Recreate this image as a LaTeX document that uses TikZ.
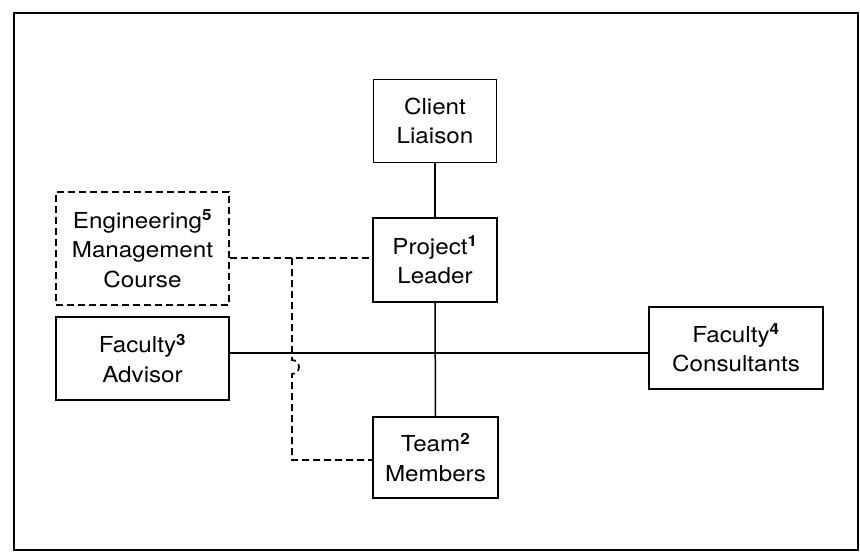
\documentclass[tikz,border=0pt]{standalone}
\usepackage{fontspec}
\setmainfont{TeX Gyre Heros}[FakeStretch=1.1]
\newcommand{\sups}[1]{\textsuperscript{\bfseries #1}}
\begin{document}
\begin{tikzpicture}[x=1pt,y=-1pt,
  box/.style={draw,line width=1.6pt,align=center,inner sep=0pt,
    font=\fontsize{22}{29.5}\selectfont},
  link/.style={line width=1.5pt},
  dlink/.style={line width=1.8pt,dash pattern=on 7pt off 4pt}]
\useasboundingbox (0,0) rectangle (860,558);
\draw[line width=2.6pt] (14,13) rectangle (858,550);
\node[box,minimum width=123pt,minimum height=83pt] (cl) at (435,121) {Client\\Liaison};
\node[box,minimum width=124pt,minimum height=84pt] (pl) at (435,260) {Project\sups{1}\\Leader};
\node[box,dash pattern=on 7pt off 4pt,line width=1.8pt,minimum width=173pt,minimum height=113pt] (emc) at (142.5,248.5) {Engineering\sups{5}\\Management\\Course};
\node[box,minimum width=173pt,minimum height=83pt] (fa) at (142.5,358.5) {Faculty\sups{3}\\Advisor};
\node[box,minimum width=174pt,minimum height=82pt] (fc) at (736,348) {Faculty\sups{4}\\Consultants};
\node[box,minimum width=125pt,minimum height=81pt] (tm) at (435.5,457.5) {Team\sups{2}\\Members};
\coordinate (hy) at (0,353);
\coordinate (dy) at (0,258);
\coordinate (jx) at (292,0);
\coordinate (by) at (0,460);
\draw[link] (cl.south) -- (pl.north);
\draw[link] (pl.south) -- (tm.north);
\draw[link] (fa.east |- hy) -- (fc.west |- hy);
\draw[dlink] (emc.east |- dy) -- (pl.west |- dy);
\coordinate (jt) at (jx |- dy);
\coordinate (jb) at (jx |- by);
\draw[dlink] (jt) -- ([yshift=-7pt]jx |- hy) arc[start angle=90,end angle=-90,radius=7pt] -- (jb) -- (tm.west |- by);
\end{tikzpicture}
\end{document}
